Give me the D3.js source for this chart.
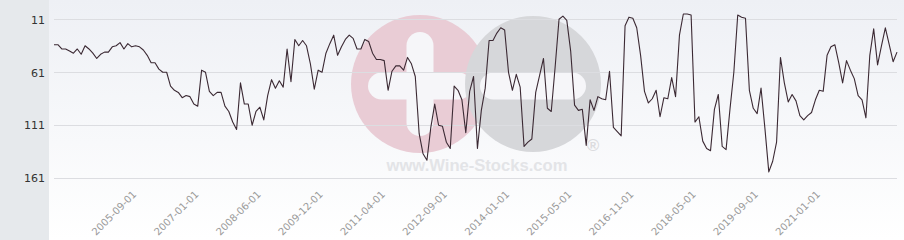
<!DOCTYPE html>
<html>
<head>
<meta charset="utf-8">
<script src="https://cdn.jsdelivr.net/npm/d3@7"></script>
<style>
  html, body { margin: 0; padding: 0; background: #fff; }
  #chart { width: 904px; height: 240px; }
</style>
</head>
<body>
<div id="chart"></div>
<script>
// ranking per period (lower is better, axis is reversed)
const rankValues = [
  35, 35, 39, 39, 41, 43, 39, 44, 36, 39,
  43, 48, 44, 42, 42, 37, 36, 33, 39, 34,
  37, 36, 37, 40, 45, 52, 52, 58, 61, 61,
  74, 78, 80, 85, 83, 84, 91, 93, 59, 61,
  79, 83, 80, 80, 93, 98, 108, 115, 71, 91,
  91, 111, 98, 94, 106, 83, 68, 76, 69, 75,
  39, 70, 30, 36, 31, 36, 53, 77, 59, 61,
  43, 34, 26, 45, 37, 30, 26, 29, 39, 39,
  30, 32, 43, 49, 49, 50, 78, 60, 55, 55,
  59, 47, 53, 65, 119, 138, 144, 113, 91, 111,
  112, 127, 133, 74, 78, 87, 118, 79, 65, 133,
  97, 76, 31, 31, 24, 19, 21, 61, 78, 63,
  75, 131, 127, 124, 80, 64, 48, 95, 98, 56,
  11, 8, 12, 41, 92, 97, 96, 130, 87, 97,
  84, 86, 87, 60, 113, 117, 121, 17, 9, 10,
  19, 45, 79, 90, 86, 78, 103, 85, 86, 66,
  84, 26, 6, 6, 7, 108, 103, 126, 133, 135,
  96, 82, 131, 134, 96, 61, 7, 9, 10, 78,
  95, 100, 76, 114, 155, 145, 127, 47, 71, 89,
  82, 88, 102, 106, 102, 99, 87, 78, 79, 45,
  37, 35, 52, 71, 50, 59, 67, 83, 87, 104,
  45, 20, 54, 36, 19, 35, 51, 42
];
const tickLabels = [
  '2005-09-01', '2007-01-01', '2008-06-01', '2009-12-01', '2011-04-01', '2012-09-01',
  '2014-01-01', '2015-05-01', '2016-11-01', '2018-05-01', '2019-09-01', '2021-01-01'
];
const yTicks = [11, 61, 111, 161];
// a label every 16 periods, starting at period 21
const firstLabel = 21;
const labelStep = 16;

class RankChart {
  constructor(id) {
    this.id = id;
    this.width = 904;
    this.height = 240;
    // plot box
    this.left = 54;
    this.right = 897;
    this.panelWidth = 49;
    this.lineColor = '#3b2933';
    this.font = '"DejaVu Sans", sans-serif';
    this.svg = null;
    this.mg = null;
    this.init();
  }
  init() {
    this.initSvg();
    this.initScales();
    this.renderBackground();
    this.renderWatermark();
    this.renderGrid();
    this.renderAxes();
    this.renderLine();
    return this;
  }
  initSvg() {
    this.svg = d3.select(`#${this.id}`)
      .append('svg')
      .attr('width', this.width)
      .attr('height', this.height)
      .attr('viewBox', `0 0 ${this.width} ${this.height}`);
    this.mg = this.svg.append('g');
  }
  initScales() {
    this.x = d3.scalePoint()
      .domain(d3.range(rankValues.length))
      .range([this.left, this.right]);
    this.y = d3.scaleLinear()
      .domain([11, 161])
      .range([19.3, 178.2]);
  }
  renderBackground() {
    const grad = this.svg.append('defs')
      .append('linearGradient')
      .attr('id', 'bgGrad')
      .attr('x1', 0).attr('y1', 0).attr('x2', 0).attr('y2', 1);
    grad.append('stop').attr('offset', '0%').attr('stop-color', '#eef0f5');
    grad.append('stop').attr('offset', '100%').attr('stop-color', '#ffffff');

    this.mg.append('rect')
      .attr('x', this.panelWidth).attr('y', 0)
      .attr('width', this.width - this.panelWidth).attr('height', this.height)
      .attr('fill', 'url(#bgGrad)');
    // left grey strip behind the y labels
    this.mg.append('rect')
      .attr('x', 0).attr('y', 0)
      .attr('width', this.panelWidth).attr('height', this.height)
      .attr('fill', '#e6e9ec');
  }
  renderWatermark() {
    const wm = this.mg.append('g').attr('id', 'watermark');
    const bar = 27;
    // pink "+"
    wm.append('circle').attr('cx', 420).attr('cy', 84).attr('r', 69).attr('fill', '#e9ccd5');
    wm.append('rect').attr('x', 420 - bar / 2).attr('y', 32).attr('width', bar).attr('height', 104)
      .attr('rx', bar / 2).attr('fill', '#f6f6f9');
    wm.append('rect').attr('x', 368).attr('y', 86 - bar / 2).attr('width', 104).attr('height', bar)
      .attr('rx', bar / 2).attr('fill', '#f6f6f9');
    // grey "-"
    wm.append('circle').attr('cx', 533).attr('cy', 84).attr('r', 68).attr('fill', '#d6d7da');
    wm.append('rect').attr('x', 480).attr('y', 86 - bar / 2).attr('width', 106).attr('height', bar)
      .attr('rx', bar / 2).attr('fill', '#f6f6f9');
    wm.append('text')
      .attr('x', 593).attr('y', 151)
      .attr('text-anchor', 'middle')
      .style('font', 'bold 17px "Liberation Sans", sans-serif')
      .attr('fill', '#dcdcdf')
      .text('®');
    wm.append('text')
      .attr('x', 477).attr('y', 171)
      .attr('text-anchor', 'middle')
      .style('font', 'bold 16.6px "Liberation Sans", sans-serif')
      .attr('fill', '#e3e4e7')
      .text('www.Wine-Stocks.com');
  }
  renderGrid() {
    this.mg.append('g')
      .selectAll('line')
      .data(yTicks)
      .join('line')
      .attr('x1', this.left).attr('x2', this.right)
      .attr('y1', d => Math.round(this.y(d)) + 0.5)
      .attr('y2', d => Math.round(this.y(d)) + 0.5)
      .attr('stroke', '#dcdde1')
      .attr('stroke-width', 1);
  }
  renderAxes() {
    const yAxis = this.mg.append('g')
      .attr('transform', 'translate(45,0)')
      .call(d3.axisLeft(this.y).tickValues(yTicks).tickSize(0).tickPadding(0));
    yAxis.select('.domain').remove();
    yAxis.selectAll('text')
      .attr('fill', '#333')
      .attr('dy', '0.34em')
      .style('font', `11px ${this.font}`);

    const xAxis = this.mg.append('g')
      .attr('transform', 'translate(0,195)')
      .call(d3.axisBottom(this.x)
        .tickValues(tickLabels.map((_, k) => firstLabel + k * labelStep))
        .tickFormat((d, k) => tickLabels[k])
        .tickSize(0));
    xAxis.select('.domain').remove();
    xAxis.selectAll('text')
      .attr('x', 0).attr('y', 0).attr('dy', 0)
      .attr('transform', 'translate(1,0) rotate(-45)')
      .attr('text-anchor', 'end')
      .attr('fill', '#9a9a9a')
      .style('font', `10px ${this.font}`);
  }
  renderLine() {
    const line = d3.line()
      .x((d, i) => this.x(i))
      .y(d => this.y(d));
    this.mg.append('path')
      .datum(rankValues)
      .attr('d', line)
      .attr('fill', 'none')
      .attr('stroke', this.lineColor)
      .attr('stroke-width', 1.1)
      .attr('stroke-linejoin', 'round');
  }
}

new RankChart('chart');
</script>
</body>
</html>
